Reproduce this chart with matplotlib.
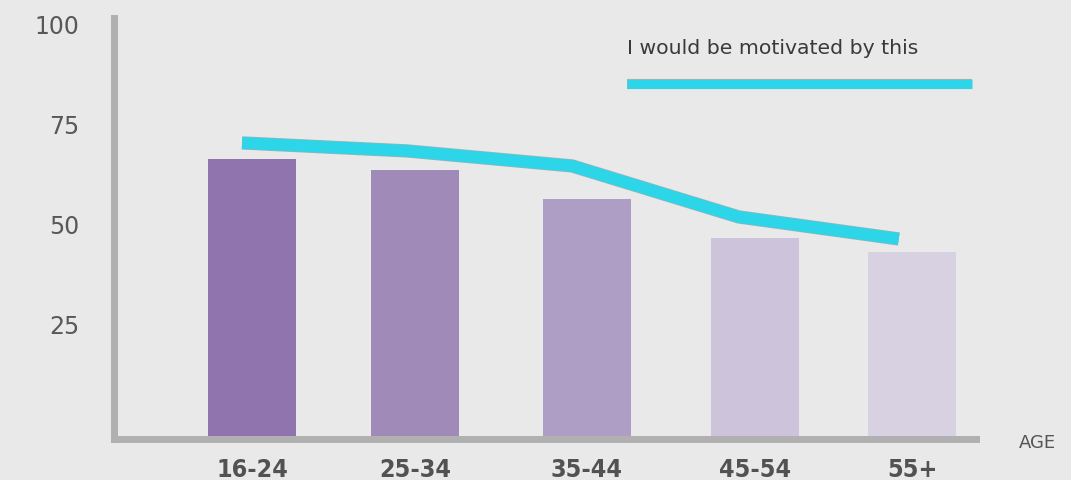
import numpy as np
import matplotlib.pyplot as plt
from matplotlib.lines import Line2D
from matplotlib.transforms import ScaledTranslation
import matplotlib.patheffects as pe

ages = ['16-24', '25-34', '35-44', '45-54', '55+']
share = [69.25, 66.5, 59.25, 49.5, 46]            # bars
motivated = [73.25, 71.25, 67.5, 54.75, 49.25]    # cyan line
bar_pos = [0, 0.99, 2.03, 3.05, 4.0]
line_pos = [-0.06, 0.94, 1.94, 2.95, 3.92]
bar_colors = ['#8f74ae', '#a08ab8', '#ae9dc5', '#cdc3da', '#d8d1e2']
yticks = [25, 50, 75, 100]

W, H = 1071, 481
bg = '#e9e9ea'
fig = plt.figure(figsize=(W / 100, H / 100), dpi=100, facecolor=bg)
ax = fig.add_axes([114 / W, (H - 440) / H, (976.5 - 114) / W, (440 - 18.5) / H])
ax.set_facecolor(bg)

ax.bar(bar_pos, share, width=0.535, color=bar_colors, zorder=2)
ax.plot(line_pos, motivated, color='#2dd5e8', lw=8.6, solid_capstyle='butt',
        solid_joinstyle='round', zorder=3,
        path_effects=[pe.Stroke(linewidth=9.6, foreground='#9fb3b6'), pe.Normal()])

ax.set_xlim(-0.836, 4.391)
ax.set_ylim(-0.75, 104.6)

for s in ['top', 'right']:
    ax.spines[s].set_visible(False)
for s in ['left', 'bottom']:
    ax.spines[s].set_linewidth(5)
    ax.spines[s].set_color('#b0b0b0')
    ax.spines[s].set_capstyle('projecting')

ax.set_xticks(bar_pos)
ax.set_xticklabels(ages, fontsize=18, fontweight='bold', fontstretch='condensed', color='#525252')
ax.set_yticks(yticks)
ax.set_yticklabels([str(t) for t in yticks], fontsize=17, color='#585858')
ax.tick_params(axis='x', length=0, pad=13)
ax.tick_params(axis='y', length=0, pad=25)
for lab in ax.get_yticklabels():
    lab.set_transform(lab.get_transform() + ScaledTranslation(0, 0.12, fig.dpi_scale_trans))

fig.text(1037 / W, 1 - 443 / H, 'AGE', fontsize=13, color='#555555', ha='center', va='center')

# legend drawn by hand: label above the line sample
fig.text(627 / W, 1 - 49 / H, 'I would be motivated by this', fontsize=14.7, color='#3a3a3a',
         ha='left', va='center')
fig.add_artist(Line2D([627 / W, 972 / W], [1 - 84.5 / H] * 2, color='#2dd5e8', lw=6.5,
                      solid_capstyle='butt',
                      path_effects=[pe.Stroke(linewidth=7.3, foreground='#9fb3b6'), pe.Normal()]))

fig.savefig('out.png', dpi=100, facecolor=bg)
